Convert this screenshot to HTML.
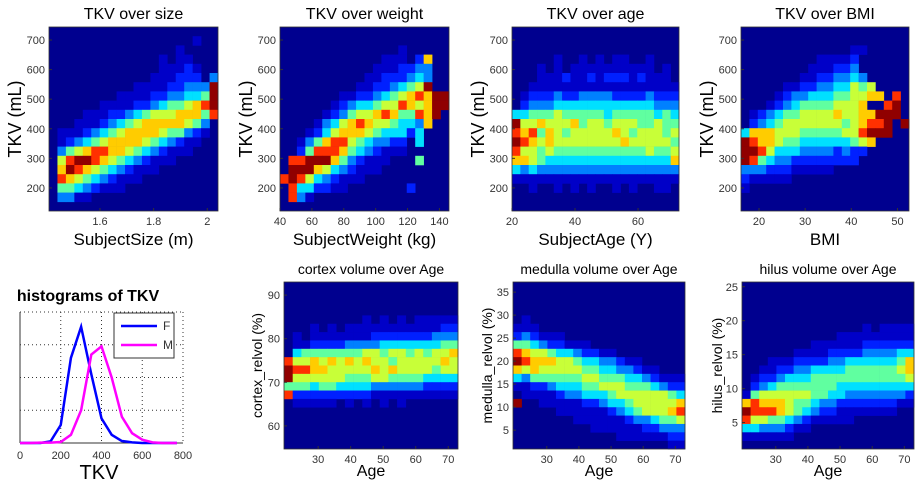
<!DOCTYPE html>
<html><head><meta charset="utf-8"><style>
html,body{margin:0;padding:0;background:#fff;}
svg{display:block;font-family:"Liberation Sans",Arial,sans-serif;}
</style></head><body>
<svg id="fig" width="921" height="484" viewBox="0 0 921 484" xmlns="http://www.w3.org/2000/svg"></svg>
<script>
// ---------- data ----------
const gridSize = ["00000000000000000000","00000000000000000100","00000000000000010000","00000000000001011000","00000000000001112100","00000000000011122203","00000000001111223339","00000000111122334459","00000011112234556789","00001112234566677758","00011123456777776530","01112345677776553210","01234567777654321100","03567887765432111000","06899876543211100000","07987654321110000000","08765432111000000000","05543211100000000000","03311000000000000000","00000000000000000000"];
const gridWeight = ["00000000000000000000","00000000000000000000","00000000000000100000","00000000000011102700","00000000000111223300","00000000001122234300","00000000011223456900","00000001122345678799","00000012344566876799","00000123566787558790","00001346787665443700","00012467776544424000","00135788654332204000","00258887543211100000","08899975321110005000","09997643211100000000","89864321110000000000","08442211000000020000","08310000000000000000","00000000000000000000"];
const gridAge = ["00000000000000000000","00000000000000000000","00000000000000000000","00000100101011001000","00010101111111111010","00011121121222121110","00111111111111111111","01222322333322223222","02333444444444444333","44555655555455555454","96676667566566655655","87857656666676566656","98767666666667666665","86656555555555556556","77654444444444444447","43433333333333333333","11111111111111111111","00100101010010100110","00000000000000000000","00000000000000000000"];
const gridBMI = ["00000000000000000000","00000000000000000000","00000000000001100000","00000000011112000000","00000000111223000000","00000001122334300000","00000112233446560000","00001233444556677080","00012345555666700890","01234556666766779990","02345666666656788909","47776665555566899900","98776554444445670000","99864443333232200000","98543322222222000000","33322211111000000000","21111100000000000000","10000000000000000000","00000000000000000000","00000000000000000000"];
const gridCortex = ["00000000000000000000","00000000000000000000","00000000000000000000","00000000000000000000","00000000010101011111","00010101111111111122","01011111112222222333","01122223333444444455","04555555566566565667","86676767676656666676","98877666667676666566","96666665556655554444","55545544443333332222","82222222221111111111","01111101010101000000","00000000000000000000","00000000000000000000","00000000000000000000","00000000000000000000","00000000000000000000"];
const gridMedulla = ["00000000000000000000","00000000000000000000","00000000000000000000","00000000000000000000","01000000000000000000","11100000000000000000","23211100000000000000","55432211100000000000","87665443221100000000","98777665443321100000","76766666554433211000","43555555665554432111","11223444556665554322","01111233444566666654","90011111223445666667","00000111111234566678","00000001111112334556","00000000011111122333","00000000000011111122","00000000000000000011"];
const gridHilus = ["00000000000000000000","00000000000000000000","00000000000000000000","00000000000000000000","00000000000000000000","00000000000000101111","00000000000111111111","00000000111111222222","00000011112222333344","00011122223344444457","00112233444455555567","01223444555555555556","02345555555444444444","15666666554433333332","78777655433222222211","98887654322111111100","86655432111110000000","44333211000000000000","11111100000000000000","00000000000000000000"];
const histBins = [0,50,100,150,200,250,300,350,400,450,500,550,600,650,700,750,770];
const histF = [0,0,0,0.05,0.55,2.6,3.55,2.1,0.75,0.25,0.06,0.02,0,0,0,0,0];
const histM = [0,0,0.01,0.01,0.03,0.25,1.0,2.7,2.95,2.0,0.8,0.3,0.1,0.02,0,0,0];
const tkvTicks = [200,300,400,500,600,700];
const sizeTicks = [1.6,1.8,2];
const weightTicks = [40,60,80,100,120,140];
const ageTicksTop = [20,40,60];
const bmiTicks = [20,30,40,50];
const ageTicks = [30,40,50,60,70];
const cortexTicks = [60,70,80,90];
const medullaTicks = [5,10,15,20,25,30,35];
const hilusTicks = [5,10,15,20,25];
const histXTicks = [0,200,400,600,800];
const histYTicks = [1,2,3];

const levelColors = ["#00008f","#0000c8","#0020ff","#0080ff","#00e0ff","#60ffa0","#c8ff38","#ffcc00","#ff3000","#900000"];
const NS = "http://www.w3.org/2000/svg";
const svg = document.getElementById('fig');
function mk(tag, attrs, parent){
  const e = document.createElementNS(NS, tag);
  for (const k in attrs) e.setAttribute(k, attrs[k]);
  (parent||svg).appendChild(e);
  return e;
}
function txt(s, x, y, size, anchor, parent, extra){
  const t = mk('text', Object.assign({x:x, y:y, 'font-size':size, 'text-anchor':anchor||'middle', fill:'#000'}, extra||{}), parent);
  t.textContent = s;
  return t;
}
function scale(d0,d1,r0,r1){ return v => r0 + (v-d0)/(d1-d0)*(r1-r0); }

function heatPanel(o){
  const g = mk('g', {});
  
  
  const sx = scale(o.xd[0], o.xd[1], o.x0, o.x1);
  const sy = scale(o.yd[0], o.yd[1], o.y1, o.y0);
  mk('rect', {x:o.x0, y:o.y0, width:o.x1-o.x0, height:o.y1-o.y0, fill:levelColors[0]}, g);
  const rows = o.grid.length, cols = o.grid[0].length;
  const bw = (o.xd[1]-o.xd[0])/cols, bh = (o.yd[1]-o.yd[0])/rows;
  for (let r=0;r<rows;r++){
    for (let c=0;c<cols;c++){
      const L = +o.grid[r][c];
      if (!L) continue;
      const vx = o.xd[0]+c*bw, vy = o.yd[1]-r*bh;
      const x = sx(vx), y = sy(vy);
      const cell = mk('rect', {x:x, y:y, width:sx(vx+bw)-x+0.3, height:sy(vy-bh)-y+0.3, fill:levelColors[L]}, g);
      
      
    }
  }
  mk('rect', {x:o.x0, y:o.y0, width:o.x1-o.x0, height:o.y1-o.y0, fill:'none', stroke:'#333', 'stroke-width':0.8}, g);
  o.yt.forEach(v=>{
    const y = sy(v);
    mk('line', {x1:o.x0, x2:o.x0+3, y1:y, y2:y, stroke:'#333'}, g);
    const t = txt(String(v), o.x0-4, y+4, 11, 'end', g, {fill:'#333'});
    
    
  });
  o.xt.forEach(v=>{
    const x = sx(v);
    mk('line', {x1:x, x2:x, y1:o.y1, y2:o.y1-3, stroke:'#333'}, g);
    const t = txt(String(v), x, o.y1+14, 11, 'middle', g, {fill:'#333'});
    
    
  });
  const ti = txt(o.title, (o.x0+o.x1)/2, o.titleY, o.titleSize, 'middle', g);
  
  
  const xl = txt(o.xlabel, (o.x0+o.x1)/2, o.xlabY, o.labSize, 'middle', g);
  
  
  const cy = (o.y0+o.y1)/2;
  const yl = txt(o.ylabel, o.ylabX, cy, o.ylabSize, 'middle', g, {transform:`rotate(-90 ${o.ylabX} ${cy})`});
  
  
}

const topCfg = {y0:27, y1:211, yd:[122,744], yt:tkvTicks, titleY:19, titleSize:16, xlabY:245, labSize:17, ylabel:'TKV (mL)', ylabSize:18};
heatPanel(Object.assign({}, topCfg, {name:'panel-tkv-size', x0:49, x1:218, xd:[1.41,2.04], xt:sizeTicks, grid:gridSize, title:'TKV over size', xlabel:'SubjectSize (m)', ylabX:21}));
heatPanel(Object.assign({}, topCfg, {name:'panel-tkv-weight', x0:280, x1:449, xd:[40,146], xt:weightTicks, grid:gridWeight, title:'TKV over weight', xlabel:'SubjectWeight (kg)', ylabX:252}));
heatPanel(Object.assign({}, topCfg, {name:'panel-tkv-age', x0:512, x1:679, xd:[20,73], xt:ageTicksTop, grid:gridAge, title:'TKV over age', xlabel:'SubjectAge (Y)', ylabX:484}));
heatPanel(Object.assign({}, topCfg, {name:'panel-tkv-bmi', x0:741, x1:909, xd:[16.1,52.5], xt:bmiTicks, grid:gridBMI, title:'TKV over BMI', xlabel:'BMI', ylabX:713}));

const botCfg = {y0:282, y1:449, titleY:274, titleSize:14, xlabY:476, labSize:16, xt:ageTicks, xlabel:'Age', ylabSize:14};
heatPanel(Object.assign({}, botCfg, {name:'panel-cortex', x0:284, x1:458, xd:[19.5,73], yd:[54.7,93], yt:cortexTicks, grid:gridCortex, title:'cortex volume over Age', ylabel:'cortex_relvol (%)', ylabX:262}));
heatPanel(Object.assign({}, botCfg, {name:'panel-medulla', x0:513, x1:685, xd:[19.5,73], yd:[0.9,37.2], yt:medullaTicks, grid:gridMedulla, title:'medulla volume over Age', ylabel:'medulla_relvol (%)', ylabX:492}));
heatPanel(Object.assign({}, botCfg, {name:'panel-hilus', x0:742, x1:914, xd:[19.5,73], yd:[1.1,25.7], yt:hilusTicks, grid:gridHilus, title:'hilus volume over Age', ylabel:'hilus_relvol (%)', ylabX:722}));

// ---------- histogram ----------
(function(){
  const x0=20, x1=183, y0=312, y1=443;
  const g = mk('g', {});
  
  
  const sx = scale(0,800,x0,x1), sy = scale(0,4,y1,y0);
  mk('rect', {x:x0, y:y0, width:x1-x0, height:y1-y0, fill:'#fff'}, g);
  histXTicks.slice(1,-1).forEach(v=>{
    mk('line', {x1:sx(v), x2:sx(v), y1:y0, y2:y1, stroke:'#333', 'stroke-width':1, 'stroke-dasharray':'1,3'}, g);
  });
  histYTicks.forEach(v=>{
    mk('line', {x1:x0, x2:x1, y1:sy(v), y2:sy(v), stroke:'#333', 'stroke-width':1, 'stroke-dasharray':'1,3'}, g);
  });
  mk('line', {x1:x0, x2:x1, y1:y0, y2:y0, stroke:'#333', 'stroke-dasharray':'1,3'}, g);
  mk('line', {x1:x1, x2:x1, y1:y0, y2:y1, stroke:'#333', 'stroke-dasharray':'1,3'}, g);
  mk('line', {x1:x0, x2:x0, y1:y0, y2:y1, stroke:'#333'}, g);
  mk('line', {x1:x0, x2:x1, y1:y1, y2:y1, stroke:'#333'}, g);
  histXTicks.forEach(v=>{
    const t = txt(String(v), sx(v), y1+16, 11, 'middle', g, {fill:'#333'});
    
    
  });
  const lineF = mk('polyline', {points:histBins.map((b,i)=>sx(b)+','+sy(histF[i])).join(' '), fill:'none', stroke:'#0000ff', 'stroke-width':2.5}, g);
  
  
  const lineM = mk('polyline', {points:histBins.map((b,i)=>sx(b)+','+sy(histM[i])).join(' '), fill:'none', stroke:'#ff00ff', 'stroke-width':2.5}, g);
  
  
  const lg = mk('g', {}, g);
  
  
  mk('rect', {x:114, y:313, width:60, height:45, fill:'#fff', stroke:'#333'}, lg);
  mk('line', {x1:121, x2:157, y1:326, y2:326, stroke:'#0000ff', 'stroke-width':2.5}, lg);
  txt('F', 163, 330, 12, 'start', lg, {fill:'#333'});
  mk('line', {x1:121, x2:157, y1:345, y2:345, stroke:'#ff00ff', 'stroke-width':2.5}, lg);
  txt('M', 163, 349, 12, 'start', lg, {fill:'#333'});
  const ti = txt('histograms of TKV', 88, 301, 16, 'middle', g, {'font-weight':'bold'});
  
  
  const xl = txt('TKV', 99, 479, 20, 'middle', g);
  
  
})();
</script>
</body></html>
